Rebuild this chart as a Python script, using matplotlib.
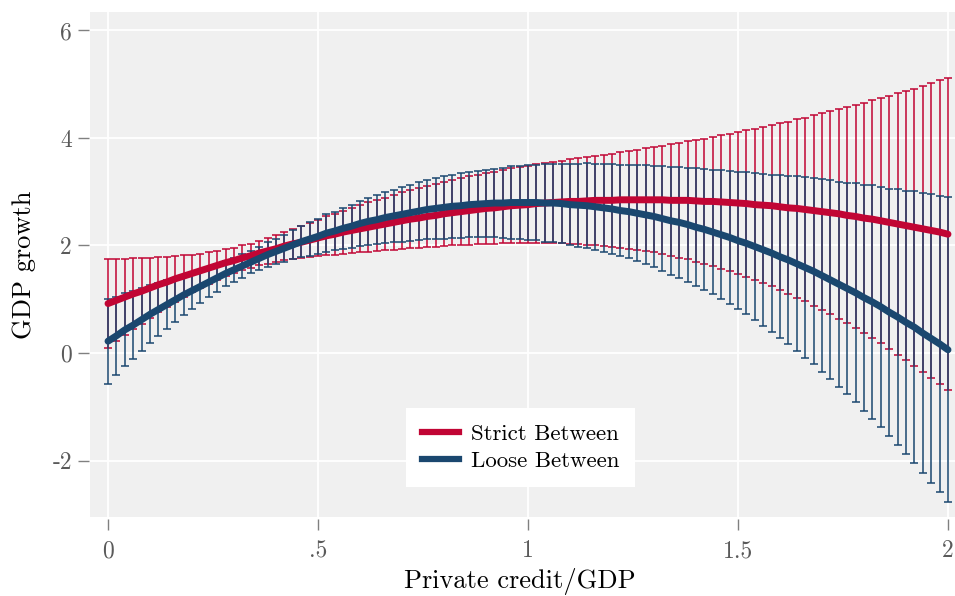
import matplotlib
matplotlib.use("Agg")
import matplotlib.pyplot as plt
from matplotlib.lines import Line2D

plt.rcParams['font.family'] = ['cmr10', 'DejaVu Serif']
plt.rcParams['axes.formatter.use_mathtext'] = True

# ---------------- data ----------------
credit_gdp = [0.00, 0.02, 0.04, 0.06, 0.08, 0.10, 0.12, 0.14, 0.16, 0.18,
              0.20, 0.22, 0.24, 0.26, 0.28, 0.30, 0.32, 0.34, 0.36, 0.38,
              0.40, 0.42, 0.44, 0.46, 0.48, 0.50, 0.52, 0.54, 0.56, 0.58,
              0.60, 0.62, 0.64, 0.66, 0.68, 0.70, 0.72, 0.74, 0.76, 0.78,
              0.80, 0.82, 0.84, 0.86, 0.88, 0.90, 0.92, 0.94, 0.96, 0.98,
              1.00, 1.02, 1.04, 1.06, 1.08, 1.10, 1.12, 1.14, 1.16, 1.18,
              1.20, 1.22, 1.24, 1.26, 1.28, 1.30, 1.32, 1.34, 1.36, 1.38,
              1.40, 1.42, 1.44, 1.46, 1.48, 1.50, 1.52, 1.54, 1.56, 1.58,
              1.60, 1.62, 1.64, 1.66, 1.68, 1.70, 1.72, 1.74, 1.76, 1.78,
              1.80, 1.82, 1.84, 1.86, 1.88, 1.90, 1.92, 1.94, 1.96, 1.98,
              2.00]

strict_growth = [0.92, 0.98, 1.04, 1.10, 1.15, 1.21, 1.27, 1.32, 1.38, 1.43,
                 1.48, 1.53, 1.58, 1.63, 1.68, 1.72, 1.77, 1.81, 1.86, 1.90,
                 1.94, 1.99, 2.03, 2.06, 2.10, 2.14, 2.18, 2.21, 2.25, 2.28,
                 2.31, 2.34, 2.37, 2.40, 2.43, 2.46, 2.49, 2.51, 2.54, 2.56,
                 2.59, 2.61, 2.63, 2.65, 2.67, 2.69, 2.70, 2.72, 2.74, 2.75,
                 2.76, 2.78, 2.79, 2.80, 2.81, 2.82, 2.82, 2.83, 2.84, 2.84,
                 2.84, 2.85, 2.85, 2.85, 2.85, 2.85, 2.85, 2.84, 2.84, 2.84,
                 2.83, 2.82, 2.82, 2.81, 2.80, 2.79, 2.78, 2.76, 2.75, 2.74,
                 2.72, 2.70, 2.69, 2.67, 2.65, 2.63, 2.61, 2.59, 2.56, 2.54,
                 2.51, 2.49, 2.46, 2.43, 2.40, 2.37, 2.34, 2.31, 2.28, 2.25,
                 2.21]

strict_ci_half = [0.82, 0.76, 0.71, 0.66, 0.61, 0.56, 0.51, 0.47, 0.43, 0.39,
                  0.35, 0.32, 0.29, 0.27, 0.25, 0.23, 0.23, 0.22, 0.23, 0.24,
                  0.25, 0.26, 0.28, 0.30, 0.32, 0.34, 0.36, 0.38, 0.40, 0.42,
                  0.44, 0.46, 0.48, 0.49, 0.51, 0.53, 0.54, 0.56, 0.57, 0.58,
                  0.60, 0.61, 0.62, 0.64, 0.65, 0.66, 0.67, 0.68, 0.70, 0.71,
                  0.72, 0.73, 0.75, 0.76, 0.77, 0.79, 0.80, 0.82, 0.83, 0.85,
                  0.87, 0.89, 0.91, 0.93, 0.96, 0.98, 1.01, 1.04, 1.07, 1.10,
                  1.13, 1.17, 1.20, 1.24, 1.28, 1.32, 1.36, 1.41, 1.45, 1.50,
                  1.55, 1.60, 1.66, 1.71, 1.77, 1.83, 1.89, 1.95, 2.01, 2.08,
                  2.14, 2.21, 2.28, 2.35, 2.43, 2.50, 2.58, 2.66, 2.74, 2.82,
                  2.90]

loose_growth = [0.22, 0.32, 0.43, 0.52, 0.62, 0.72, 0.81, 0.90, 0.99, 1.08,
                1.16, 1.24, 1.32, 1.40, 1.48, 1.55, 1.62, 1.69, 1.76, 1.83,
                1.89, 1.95, 2.01, 2.07, 2.12, 2.17, 2.23, 2.27, 2.32, 2.36,
                2.41, 2.45, 2.48, 2.52, 2.55, 2.58, 2.61, 2.64, 2.67, 2.69,
                2.71, 2.73, 2.74, 2.76, 2.77, 2.78, 2.79, 2.79, 2.80, 2.80,
                2.80, 2.80, 2.79, 2.79, 2.78, 2.76, 2.75, 2.74, 2.72, 2.70,
                2.68, 2.65, 2.63, 2.60, 2.57, 2.54, 2.50, 2.46, 2.43, 2.39,
                2.34, 2.30, 2.25, 2.20, 2.15, 2.09, 2.04, 1.98, 1.92, 1.86,
                1.79, 1.73, 1.66, 1.59, 1.52, 1.44, 1.36, 1.28, 1.20, 1.12,
                1.03, 0.95, 0.86, 0.76, 0.67, 0.57, 0.48, 0.37, 0.27, 0.17,
                0.06]

loose_ci_half = [0.79, 0.73, 0.68, 0.63, 0.59, 0.54, 0.49, 0.45, 0.41, 0.37,
                 0.34, 0.31, 0.28, 0.26, 0.24, 0.22, 0.22, 0.21, 0.22, 0.23,
                 0.24, 0.25, 0.27, 0.29, 0.31, 0.33, 0.35, 0.36, 0.38, 0.40,
                 0.42, 0.44, 0.46, 0.47, 0.49, 0.51, 0.52, 0.54, 0.55, 0.56,
                 0.58, 0.59, 0.60, 0.61, 0.62, 0.63, 0.64, 0.65, 0.67, 0.68,
                 0.69, 0.70, 0.72, 0.73, 0.74, 0.76, 0.77, 0.79, 0.80, 0.82,
                 0.84, 0.85, 0.87, 0.89, 0.92, 0.94, 0.97, 1.00, 1.03, 1.06,
                 1.10, 1.13, 1.16, 1.20, 1.24, 1.28, 1.32, 1.37, 1.41, 1.46,
                 1.52, 1.57, 1.63, 1.68, 1.73, 1.79, 1.85, 1.91, 1.97, 2.04,
                 2.10, 2.17, 2.23, 2.30, 2.38, 2.45, 2.53, 2.61, 2.69, 2.76,
                 2.84]

series_labels = ['Strict Between', 'Loose Between']
x_ticks = [0, 0.5, 1, 1.5, 2]
x_ticklabels = ['0', '.5', '1', '1.5', '2']
y_ticks = [-2, 0, 2, 4, 6]
y_ticklabels = ['-2', '0', '2', '4', '6']

# ---------------- style ----------------
RED = '#C10534'
BLUE = '#1A476F'

fig = plt.figure(figsize=(9.55, 5.96), dpi=100)
ax = fig.add_axes([90 / 955, 1 - 517 / 596, 865 / 955, 505 / 596])
ax.set_facecolor('#F0F0F0')
ax.set_xlim(-0.0429, 2.0167)
ax.set_ylim(-3.051, 6.344)

for s in ax.spines.values():
    s.set_visible(False)
ax.spines['bottom'].set_position(('outward', 1.5))
ax.spines['left'].set_position(('outward', 1))

ax.grid(True, color='white', linewidth=1.3)
ax.set_axisbelow(True)

ax.errorbar(credit_gdp, strict_growth, yerr=strict_ci_half, fmt='none',
            ecolor=RED, elinewidth=1.1, capsize=3, capthick=1.1, zorder=2)
ax.errorbar(credit_gdp, loose_growth, yerr=loose_ci_half, fmt='none',
            ecolor=BLUE, elinewidth=1.1, capsize=3, capthick=1.1, zorder=2.1)
ax.plot(credit_gdp, strict_growth, color=RED, lw=5, solid_capstyle='round',
        zorder=3)
ax.plot(credit_gdp, loose_growth, color=BLUE, lw=5, solid_capstyle='round',
        zorder=3.1)

ax.set_xticks(x_ticks, x_ticklabels)
ax.set_yticks(y_ticks, y_ticklabels)
ax.tick_params(axis='both', direction='out', length=8, width=1.0,
               color='#808080', labelcolor='#5a5a5a', labelsize=17)
ax.tick_params(axis='x', pad=7)
ax.tick_params(axis='y', pad=4)

ax.set_xlabel('Private credit/GDP', fontsize=19, color='black')
ax.xaxis.set_label_coords(0.497, -0.101)
ax.set_ylabel('GDP growth', fontsize=19, color='black')
ax.yaxis.set_label_coords(-0.063, 0.5)

handles = [Line2D([], [], color=RED, lw=4.5),
           Line2D([], [], color=BLUE, lw=4.5)]
leg = ax.legend(handles, series_labels, loc='center',
                bbox_to_anchor=(0.4977, 0.1376), fontsize=16.5,
                handlelength=1.65, handletextpad=0.5, borderpad=0.7,
                labelspacing=0.33, frameon=True, fancybox=False,
                framealpha=1.0, borderaxespad=0)
leg.get_frame().set_facecolor('white')
leg.get_frame().set_edgecolor('none')
leg.set_zorder(5)

fig.savefig('out.png', dpi=100)
